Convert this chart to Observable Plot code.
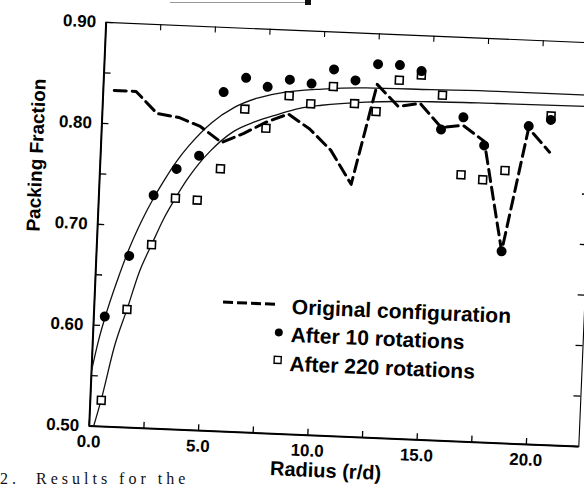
<!DOCTYPE html>
<html>
<head>
<meta charset="utf-8">
<script src="https://cdn.jsdelivr.net/npm/d3@7"></script>
<script src="https://cdn.jsdelivr.net/npm/@observablehq/plot@0.6"></script>
<style>
  html, body { margin: 0; padding: 0; background: #fff; overflow: hidden; width: 584px; height: 489px; }
  #wrap { position: absolute; left: 0; top: 0; width: 600px; height: 489px; transform: rotate(2.4deg); transform-origin: 342px 234px; }
  #wrap svg { overflow: visible; display: block; }
  #caption { position: absolute; left: 0px; top: 470px; font-family: "Liberation Serif", serif; font-size: 16px; line-height: 18px; letter-spacing: 4px; white-space: pre; color: #111; }
  #scrap { position: absolute; left: 170px; top: 0px; width: 136px; height: 2px; border-bottom: 1px solid #999; }
  #scrapEnd { position: absolute; left: 305px; top: 0px; width: 6px; height: 5px; background: #111; }
</style>
</head>
<body>
<div id="scrap"></div><div id="scrapEnd"></div>
<div id="wrap"></div>
<div id="caption">2.  Results for the</div>
<script>
// ---- data ----
const radius = [0.5, 1.5, 2.5, 3.5, 4.5, 5.5, 6.5, 7.5, 8.5, 9.5, 10.5, 11.5, 12.5, 13.5, 14.5, 15.5, 16.5, 17.5, 18.5, 19.5, 20.5];
const originalConfig = [0.833, 0.833, 0.812, 0.809, 0.801, 0.786, 0.796, 0.808, 0.817, 0.803, 0.783, 0.750, 0.850, 0.829, 0.833, 0.810, 0.813, 0.798, 0.690, 0.813, 0.790];
const after10 = [0.609, 0.670, 0.731, 0.758, 0.772, 0.836, 0.851, 0.843, 0.851, 0.848, 0.863, 0.853, 0.870, 0.870, 0.865, 0.808, 0.821, 0.794, 0.690, 0.815, 0.822];
const after220 = [0.526, 0.617, 0.682, 0.729, 0.728, 0.760, 0.820, 0.802, 0.835, 0.828, 0.846, 0.830, 0.823, 0.855, 0.861, 0.842, 0.764, 0.760, 0.770, null, 0.826];

// fitted curves
const fit10Radius = [0, 0.25, 0.5, 1, 1.5, 2, 2.5, 3, 3.5, 4, 5, 6, 7, 8, 10, 12, 15, 18, 22.4];
const fit10Value  = [0.555, 0.584, 0.607, 0.645, 0.678, 0.705, 0.728, 0.748, 0.766, 0.781, 0.805, 0.821, 0.831, 0.837, 0.843, 0.846, 0.847, 0.848, 0.848];
const fit220Radius = [0.2, 0.5, 1, 1.5, 2, 2.5, 3, 3.5, 4, 4.5, 5, 6, 7, 8, 9, 10, 12, 15, 18, 22.4];
const fit220Value  = [0.500, 0.527, 0.580, 0.617, 0.655, 0.682, 0.708, 0.729, 0.748, 0.764, 0.777, 0.797, 0.808, 0.816, 0.823, 0.827, 0.832, 0.835, 0.836, 0.837];

const xTickLabels = [0, 5, 10, 15, 20];
const yTickLabels = [0.5, 0.6, 0.7, 0.8, 0.9];
const xMinorTicks = [0, 2.5, 5, 7.5, 10, 12.5, 15, 17.5, 20];
const yMinorTicks = [0.5, 0.55, 0.6, 0.65, 0.7, 0.75, 0.8, 0.85, 0.9];

const xLabel = "Radius (r/d)";
const yLabel = "Packing Fraction";
const legendLabels = ["Original configuration", "After 10 rotations", "After 220 rotations"];

// ---- tables ----
const pts = radius.map((r, i) => ({r, orig: originalConfig[i], a10: after10[i], a220: after220[i]}));
const fit10 = fit10Radius.map((r, i) => ({r, v: fit10Value[i]}));
const fit220 = fit220Radius.map((r, i) => ({r, v: fit220Value[i]}));

const W = 600, H = 489, ML = 97, MR = 13, MT = 32, MB = 53;
const FW = W - ML - MR, FH = H - MT - MB;

const chart = Plot.plot({
  width: W, height: H,
  marginLeft: ML, marginRight: MR, marginTop: MT, marginBottom: MB,
  x: {domain: [0, 22.4]},
  y: {domain: [0.5, 0.9]},
  style: {fontFamily: "'Liberation Sans', Arial, sans-serif", fontSize: "17px", fontWeight: "bold", background: "transparent", color: "#000"},
  marks: [
    Plot.frame({stroke: "#000", strokeWidth: 1.1}),
    Plot.ruleX([0], {stroke: "#000", strokeWidth: 2}),
    Plot.ruleY([0.5], {stroke: "#000", strokeWidth: 2}),
    Plot.tickY(yMinorTicks, {y: d => d, insetRight: FW - 7, stroke: "#000", strokeWidth: 1.3}),
    Plot.tickY(yMinorTicks, {y: d => d, insetLeft: FW - 7, stroke: "#000", strokeWidth: 1.3}),
    Plot.tickX(xMinorTicks, {x: d => d, insetTop: FH - 6, stroke: "#000", strokeWidth: 1.3}),
    Plot.tickX(xMinorTicks, {x: d => d, insetBottom: FH - 6, stroke: "#000", strokeWidth: 1.1}),
    Plot.axisX({ticks: xTickLabels, tickFormat: d => d.toFixed(1), tickSize: 0, tickPadding: 9, label: null}),
    Plot.axisY({ticks: yTickLabels, tickFormat: d => d.toFixed(2), tickSize: 0, tickPadding: 10, label: null}),
    Plot.text([xLabel], {frameAnchor: "bottom", dy: 35, dx: -7, fontSize: 20, fontWeight: "bold", lineAnchor: "middle"}),
    Plot.text([yLabel], {frameAnchor: "left", dx: -64, dy: 10, rotate: -90, fontSize: 19, fontWeight: "bold", lineAnchor: "middle"}),
    Plot.line(fit10, {x: "r", y: "v", curve: "monotone-x", stroke: "#111", strokeWidth: 1.3}),
    Plot.line(fit220, {x: "r", y: "v", curve: "monotone-x", stroke: "#111", strokeWidth: 1.3}),
    Plot.dot(pts, {x: "r", y: "a220", symbol: "square", r: 4.4, fill: "#fff", stroke: "#000", strokeWidth: 1.6}),
    Plot.dot(pts, {x: "r", y: "a10", r: 5, fill: "#000", stroke: "none"}),
    Plot.line(pts, {x: "r", y: "orig", stroke: "#000", strokeWidth: 3, strokeDasharray: "12,6"})
  ]
});

document.getElementById("wrap").appendChild(chart);

// legend inside the plot area
const svg = d3.select(chart);
const lg = svg.append("g")
  .attr("font-family", "'Liberation Sans', Arial, sans-serif")
  .attr("font-weight", "bold").attr("font-size", 21).attr("text-anchor", "start");
lg.append("line").attr("x1", 226).attr("x2", 280).attr("y1", 307).attr("y2", 307)
  .attr("stroke", "#000").attr("stroke-width", 3).attr("stroke-dasharray", "10,4");
lg.append("circle").attr("cx", 283).attr("cy", 335).attr("r", 4).attr("fill", "#000");
lg.append("rect").attr("x", 279.5).attr("y", 359).attr("width", 7).attr("height", 7).attr("fill", "#fff").attr("stroke", "#000").attr("stroke-width", 1.4);
const baselines = [316, 344, 373];
legendLabels.forEach((t, i) => {
  lg.append("text").attr("x", 295).attr("y", baselines[i]).attr("fill", "#000").attr("text-anchor", "start").text(t);
});
</script>
</body>
</html>
